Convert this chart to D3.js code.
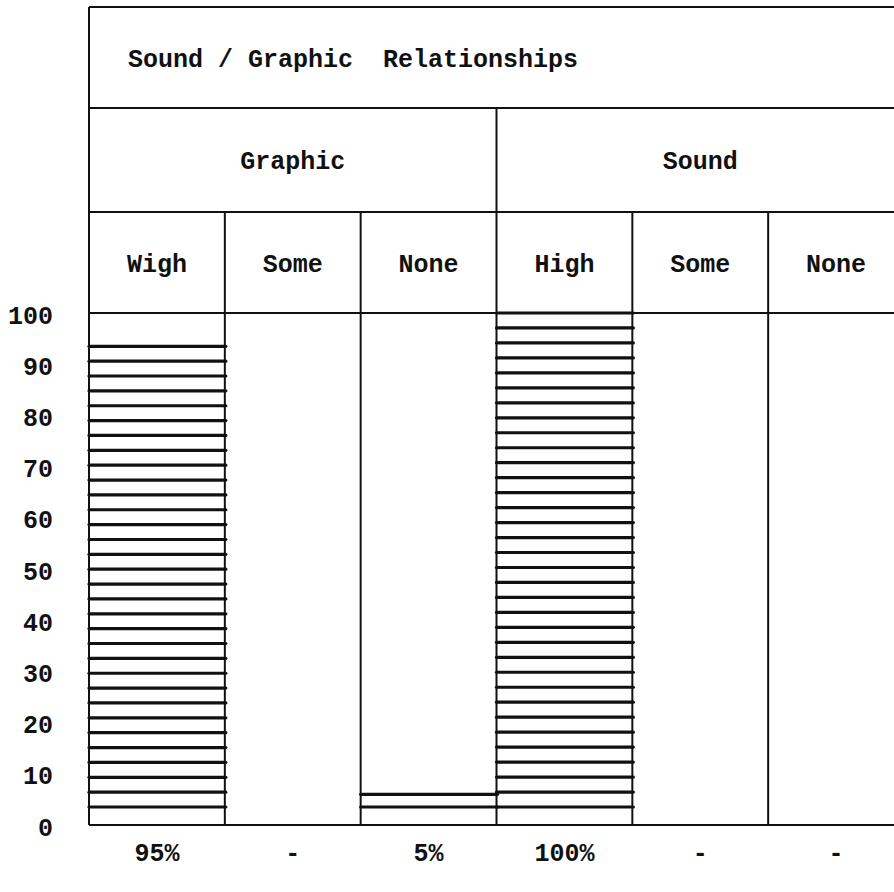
<!DOCTYPE html>
<html>
<head>
<meta charset="utf-8">
<script src="https://cdn.jsdelivr.net/npm/d3@7"></script>
<style>
  html, body { margin: 0; padding: 0; background: #fff; }
  svg { display: block; }
  text { font-family: "Liberation Mono", "DejaVu Sans Mono", monospace; font-weight: bold; fill: #111; white-space: pre; }
</style>
</head>
<body>
<svg id="chart" width="894" height="892"></svg>
<script>
// ---- data ----
const title = "Sound / Graphic  Relationships";
const groups = ["Graphic", "Sound"];
const categories = ["Wigh", "Some", "None", "High", "Some", "None"];
const categoryGroup = ["Graphic", "Graphic", "Graphic", "Sound", "Sound", "Sound"];
const values = [93.5, 0, 6, 100, 0, 0];
const valueLabels = ["95%", "-", "5%", "100%", "-", "-"];
const yTicks = [0, 10, 20, 30, 40, 50, 60, 70, 80, 90, 100];

// ---- layout ----
const left = 89, right = 904;
const topY = 7, titleBottom = 108, groupBottom = 212, catBottom = 313, base = 825;
const ink = "#111";
const fs = 25;

const svg = d3.select("#chart");
const idx = d3.range(categories.length);

const x = d3.scaleBand().domain(idx).range([left, right]).padding(0);
const y = d3.scaleLinear().domain([0, 100]).range([base, catBottom]);
const gx = d3.scaleBand().domain(groups).range([left, right]).padding(0);

// ---- bars (hatched) ----
const barsG = svg.append("g");
idx.forEach(i => {
  const v = values[i];
  if (v <= 0) return;
  const x0 = x(i), x1 = x(i) + x.bandwidth();
  const top = y(v);
  const last = y(0) - 18;
  const n = Math.max(1, Math.round((last - top) / 15));
  const step = (last - top) / n;
  const ys = d3.range(n + 1).map(k => top + k * step);
  barsG.selectAll(null).data(ys).enter().append("line")
    .attr("x1", x0).attr("x2", x1 + 1)
    .attr("y1", d => d).attr("y2", d => d)
    .attr("stroke", ink).attr("stroke-width", 3.2).attr("stroke-linecap", "round");
});

// ---- grid / frame ----
const grid = svg.append("g").attr("stroke", ink).attr("stroke-width", 2).attr("fill", "none");
[topY, titleBottom, groupBottom, catBottom, base].forEach(yy => {
  grid.append("line").attr("x1", left).attr("x2", right).attr("y1", yy).attr("y2", yy);
});
grid.append("line").attr("x1", left).attr("x2", left).attr("y1", topY).attr("y2", base);
groups.slice(1).forEach(g => {
  grid.append("line").attr("x1", gx(g)).attr("x2", gx(g)).attr("y1", titleBottom).attr("y2", base);
});
idx.slice(1).forEach(i => {
  if (categoryGroup[i] !== categoryGroup[i - 1]) return;
  grid.append("line").attr("x1", x(i)).attr("x2", x(i)).attr("y1", groupBottom).attr("y2", base);
});

// ---- texts ----
svg.append("text").attr("x", 128).attr("y", (topY + titleBottom) / 2 + 3)
  .attr("xml:space", "preserve")
  .attr("dominant-baseline", "middle").attr("font-size", fs).text(title);

svg.selectAll(null).data(groups).enter().append("text")
  .attr("x", d => gx(d) + gx.bandwidth() / 2)
  .attr("y", (titleBottom + groupBottom) / 2 + 2)
  .attr("text-anchor", "middle").attr("dominant-baseline", "middle")
  .attr("font-size", fs).text(d => d);

svg.selectAll(null).data(idx).enter().append("text")
  .attr("x", i => x(i) + x.bandwidth() / 2)
  .attr("y", (groupBottom + catBottom) / 2 + 3)
  .attr("text-anchor", "middle").attr("dominant-baseline", "middle")
  .attr("font-size", fs).text(i => categories[i]);

svg.selectAll(null).data(idx).enter().append("text")
  .attr("x", i => x(i) + x.bandwidth() / 2)
  .attr("y", 854)
  .attr("text-anchor", "middle").attr("dominant-baseline", "middle")
  .attr("font-size", fs).text(i => valueLabels[i]);

// ---- y axis ----
const yAxis = d3.axisLeft(y).tickValues(yTicks).tickSize(0).tickPadding(0).tickFormat(d3.format("d"));
const ya = svg.append("g").attr("transform", "translate(53,0)").call(yAxis);
ya.select(".domain").remove();
ya.selectAll("text")
  .attr("font-family", "Liberation Mono, monospace")
  .attr("font-size", fs).attr("font-weight", "bold")
  .attr("fill", ink).attr("dy", "0.4em");
</script>
</body>
</html>
